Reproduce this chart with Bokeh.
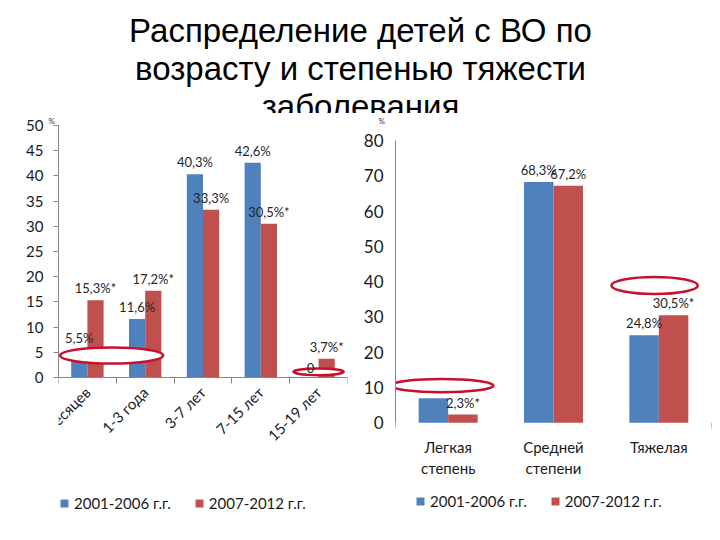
import math
from bokeh.plotting import figure
from bokeh.models import (FixedTicker, Legend, LegendItem, ColumnDataSource, Range1d)
from bokeh.layouts import column, row
from bokeh.embed import file_html
from bokeh.resources import INLINE
from bokeh.core.properties import value

# ---------------- data ----------------
title_lines = ["Распределение детей с ВО по", "возрасту и степенью тяжести", "заболевания"]
series_names = ["2001-2006 г.г.", "2007-2012 г.г."]
unit_label = "%"

age_groups = ["0-12 месяцев", "1-3 года", "3-7 лет", "7-15 лет", "15-19 лет"]
age_2001 = [5.5, 11.6, 40.3, 42.6, 0.0]
age_2007 = [15.3, 17.2, 33.3, 30.5, 3.7]
age_2001_labels = ["5,5%", "11,6%", "40,3%", "42,6%", "0"]
age_2007_labels = ["15,3%*", "17,2%*", "33,3%", "30,5%*", "3,7%*"]
age_yticks = [0, 5, 10, 15, 20, 25, 30, 35, 40, 45, 50]

severity = ["Легкая\nстепень", "Средней\nстепени", "Тяжелая"]
sev_2001 = [6.9, 68.3, 24.8]
sev_2007 = [2.3, 67.2, 30.5]
sev_2001_labels = ["", "68,3%", "24,8%"]
sev_2007_labels = ["2,3%*", "67,2%", "30,5%*"]
sev_yticks = [0, 10, 20, 30, 40, 50, 60, 70, 80]

# highlight ellipses (category position, value, width, height)
age_hl_x = [0.92, 4.5]
age_hl_y = [4.35, 1.1]
age_hl_w = [1.78, 0.87]
age_hl_h = [3.2, 1.3]
sev_hl_x = [0.44, 2.46]
sev_hl_y = [10.5, 38.9]
sev_hl_w = [0.98, 0.82]
sev_hl_h = [3.7, 4.8]

BLUE = "#4f81bd"
RED = "#c0504d"
AXIS = "#868686"
ELL = "#c8102e"
FONT = "Lato"
TXT = "#1a1a1a"


def build(cats, a, b, la, lb, yticks, y_span, hx, hy, hw, hh, frame, borders,
          ytick_size, ytick_out, ystand, rotate, xaxis_line, minor,
          unit_offset, legend_loc):
    n = len(cats)
    p = figure(frame_width=frame[0], frame_height=frame[1],
               x_range=Range1d(0, n), y_range=Range1d(y_span[0], y_span[1]),
               output_backend="svg", toolbar_location=None,
               min_border_left=borders[0], min_border_right=borders[1],
               min_border_top=borders[2], min_border_bottom=borders[3])
    p.outline_line_color = None
    p.xgrid.grid_line_color = None
    p.ygrid.grid_line_color = None
    # small unit mark above the value axis
    p.title.text = unit_label
    p.title.text_font_size = "8px"
    p.title.text_font_style = "normal"
    p.title.text_font = FONT
    p.title.text_color = "#333333"
    p.title.align = "left"
    p.title.offset = unit_offset
    p.title.standoff = 0

    w = 0.28
    centers = [i + 0.5 for i in range(n)]
    src = ColumnDataSource(dict(
        xa=[c - w / 2 for c in centers], xb=[c + w / 2 for c in centers],
        a=a, b=b, la=la, lb=lb))
    r1 = p.vbar(x="xa", top="a", bottom=0, width=w, source=src,
                fill_color=BLUE, line_color=None)
    r2 = p.vbar(x="xb", top="b", bottom=0, width=w, source=src,
                fill_color=RED, line_color=None)
    p.ellipse(x=hx, y=hy, width=hw, height=hh, fill_color="white",
              line_color=ELL, line_width=2.5)
    p.text(x="xa", y="a", text="la", source=src,
           text_align="center", text_baseline="bottom", y_offset=-4,
           text_font=value(FONT), text_font_size="13px", text_color="#262626")
    p.text(x="xb", y="b", text="lb", source=src,
           text_align="center", text_baseline="bottom", y_offset=-4,
           text_font=value(FONT), text_font_size="13px", text_color="#262626")

    ya = p.yaxis[0]
    ya.ticker = FixedTicker(ticks=yticks)
    ya.bounds = (yticks[0], yticks[-1])
    ya.axis_line_color = AXIS
    ya.major_tick_line_color = AXIS if ytick_out else None
    ya.major_tick_out = ytick_out
    ya.major_tick_in = 0
    ya.minor_tick_line_color = None
    ya.major_label_standoff = ystand
    ya.major_label_text_font = FONT
    ya.major_label_text_font_size = ytick_size
    ya.major_label_text_color = TXT

    # category axis drawn on the zero line, legend sits under it in the frame
    xa = p.xaxis[0]
    xa.fixed_location = 0
    xa.ticker = FixedTicker(ticks=centers, minor_ticks=minor)
    xa.major_label_overrides = {c: t for c, t in zip(centers, cats)}
    xa.major_tick_line_color = None
    xa.minor_tick_line_color = AXIS
    xa.minor_tick_out = 6
    xa.minor_tick_in = 0
    xa.axis_line_color = AXIS if xaxis_line else None
    xa.major_label_text_font = FONT
    xa.major_label_text_font_size = "15px"
    xa.major_label_text_color = TXT
    if rotate:
        xa.major_label_orientation = math.pi / 4
        xa.major_label_standoff = 6
    else:
        xa.major_label_standoff = 9

    lg = Legend(items=[LegendItem(label=series_names[0], renderers=[r1]),
                       LegendItem(label=series_names[1], renderers=[r2])],
                location=legend_loc, orientation="horizontal",
                border_line_color=None, background_fill_alpha=0,
                label_text_font=FONT, label_text_font_size="15px",
                label_text_color=TXT, glyph_width=10, glyph_height=10,
                label_standoff=5, spacing=23, padding=0, margin=0)
    p.add_layout(lg)
    return p


left = build(age_groups, age_2001, age_2007, age_2001_labels, age_2007_labels,
             age_yticks, (-29.2, 50), age_hl_x, age_hl_y, age_hl_w, age_hl_h,
             (289, 399), (58, 13, 10, 5), "15px", 5, 10, True, True,
             [0, 1, 2, 3, 4, 5], -10, (1, 12))

right = build(severity, sev_2001, sev_2007, sev_2001_labels, sev_2007_labels,
              sev_yticks, (-28.9, 84.3), sev_hl_x, sev_hl_y, sev_hl_w, sev_hl_h,
              (316, 399), (33, 11, 10, 5), "17px", 0, 12, False, False,
              [0, 3], -17, (20, 14))

# title band
TH = 113
tf = figure(width=720, height=TH, x_range=Range1d(0, 720), y_range=Range1d(0, TH),
            output_backend="svg", toolbar_location=None, min_border=0,
            x_axis_location=None, y_axis_location=None)
tf.outline_line_color = None
tf.xgrid.grid_line_color = None
tf.ygrid.grid_line_color = None
tf.text(x=[360] * len(title_lines),
        y=[TH - 30 - 38 * i for i in range(len(title_lines))],
        text=title_lines, text_align="center", text_baseline="alphabetic",
        text_font=value("Liberation Sans"), text_font_size="33px", text_color="black")

layout = column(tf, row(left, right))
open("out.html", "w").write(file_html(layout, INLINE))
